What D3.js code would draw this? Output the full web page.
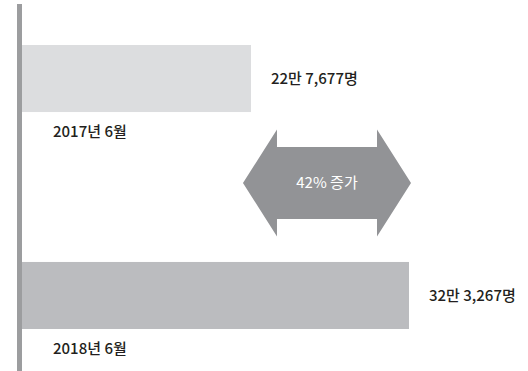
<!DOCTYPE html>
<html><head><meta charset="utf-8">
<script src="https://cdn.jsdelivr.net/npm/d3@7"></script>
<style>
html,body{margin:0;padding:0;background:#fff;}
svg{display:block;font-family:"Noto Sans CJK KR","Noto Sans",sans-serif;}
</style></head>
<body>
<svg id="chart" width="528" height="371"></svg>
<script>
const categories = ["2017년 6월", "2018년 6월"];
const values = [227677, 323267];
const valueLabels = ["22만 7,677명", "32만 3,267명"];
const changeLabel = "42% 증가";
const barColors = ["#dcdddf", "#bbbcbf"];

const svg = d3.select("#chart");
const x = d3.scaleLinear().domain([89150, 323267]).range([22, 409]);
const y = d3.scaleBand().domain(categories).range([45, 329]).paddingInner(0.691).paddingOuter(0);

// bars
svg.selectAll("rect.bar").data(categories).join("rect")
  .attr("class","bar")
  .attr("x", x.range()[0])
  .attr("y", d => y(d))
  .attr("width", (d,i) => x(values[i]) - x.range()[0])
  .attr("height", y.bandwidth())
  .attr("fill", (d,i) => barColors[i]);

// axis line
svg.append("line")
  .attr("x1", 19.5).attr("x2", 19.5)
  .attr("y1", 4).attr("y2", 371)
  .attr("stroke", "#9c9d9f").attr("stroke-width", 5);

// value labels
svg.selectAll("text.val").data(categories).join("text")
  .attr("class","val")
  .attr("x", (d,i) => x(values[i]) + 20)
  .attr("y", d => y(d) + y.bandwidth()/2)
  .attr("dy", "0.36em")
  .attr("font-size", 15).attr("font-weight", 500)
  .attr("fill", "#231f20")
  .text((d,i) => valueLabels[i]);

// category labels
svg.selectAll("text.cat").data(categories).join("text")
  .attr("class","cat")
  .attr("x", 53)
  .attr("y", d => y(d) + y.bandwidth() + 25)
  .attr("font-size", 15).attr("font-weight", 500)
  .attr("fill", "#231f20")
  .text(d => d);

// double arrow
const xl = x(values[0]) - 8, xr = x(values[1]) + 2;
const cy = 183, headH = 53.5, shaftH = 36, headL = 34;
const pts = [
  [xl, cy], [xl+headL, cy-headH], [xl+headL, cy-shaftH], [xr-headL, cy-shaftH],
  [xr-headL, cy-headH], [xr, cy], [xr-headL, cy+headH], [xr-headL, cy+shaftH],
  [xl+headL, cy+shaftH], [xl+headL, cy+headH]
];
svg.append("path")
  .attr("d", d3.line()(pts) + "Z")
  .attr("fill", "#929396");
svg.append("text")
  .attr("x", (xl+xr)/2).attr("y", cy).attr("dy","0.36em")
  .attr("text-anchor","middle")
  .attr("font-size", 15).attr("font-weight", 400)
  .attr("fill", "#ffffff")
  .text(changeLabel);
</script>
</body></html>
